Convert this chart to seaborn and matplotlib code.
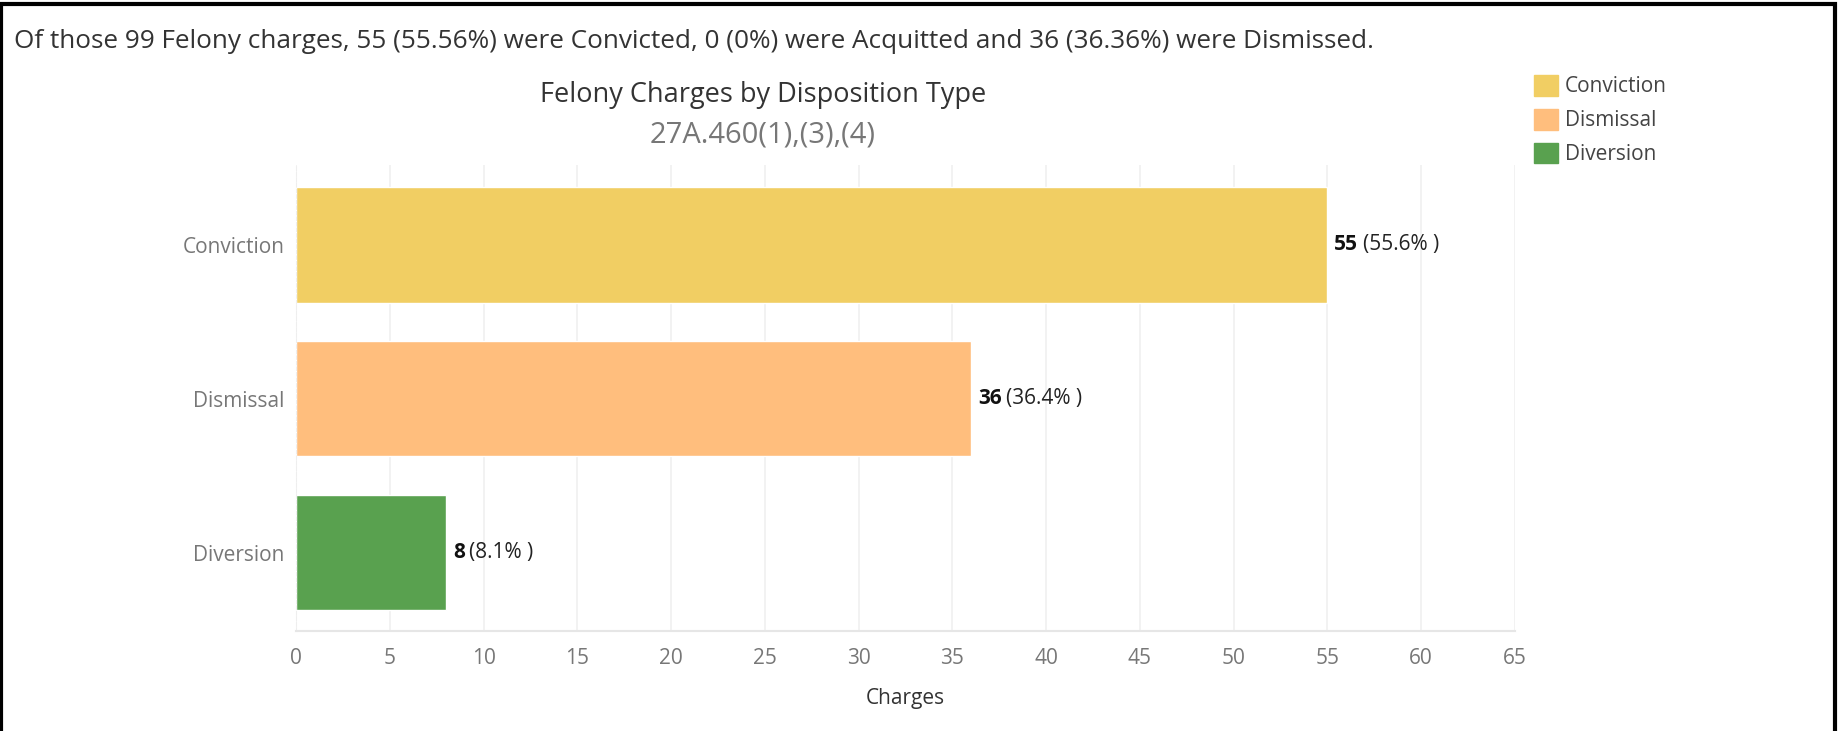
import matplotlib
matplotlib.use("Agg")
import matplotlib.pyplot as plt
import matplotlib.patches as mpatches
import seaborn as sns
import pandas as pd

# data
categories = ["Conviction", "Dismissal", "Diversion"]
counts = [55, 36, 8]
total_charges = 99
colors = ["#F1CE63", "#FFBE7D", "#59A14F"]
x_ticks = list(range(0, 70, 5))
summary = ("Of those 99 Felony charges, 55 (55.56%) were Convicted, "
           "0 (0%) were Acquitted and 36 (36.36%) were Dismissed.")

sns.set_style("white")
plt.rcParams["font.family"] = ["Open Sans", "DejaVu Sans"]

df = pd.DataFrame({"disposition": categories, "charges": counts})

fig = plt.figure(figsize=(18.43, 7.31), dpi=100)
ax = fig.add_axes([0.1606, 0.1368, 0.6614, 0.6375])

sns.barplot(data=df, x="charges", y="disposition", hue="disposition",
            palette=colors, orient="h", width=0.75, legend=False,
            saturation=1, ax=ax)

ax.set_xlim(0, 65)
ax.set_ylim(2.51, -0.52)
ax.set_xticks(x_ticks)
ax.tick_params(axis="x", labelsize=15, labelcolor="#777777", length=0, pad=12)
ax.tick_params(axis="y", labelsize=15, labelcolor="#777777", length=0, pad=8)
ax.grid(axis="x", color="#f0f0f0", linewidth=1.2)
ax.set_axisbelow(True)
for s in ["top", "right"]:
    ax.spines[s].set_visible(False)
ax.spines["bottom"].set_color("#e6e6e6")
ax.spines["bottom"].set_linewidth(1.5)
ax.spines["left"].set_color("#eeeeee")
ax.spines["left"].set_linestyle((0, (3, 2)))
ax.set_xlabel("Charges", fontsize=15, color="#333333", labelpad=14)
ax.set_ylabel("")

# value labels: bold count + percentage
for i, n in enumerate(counts):
    pct = n / total_charges * 100
    t = ax.annotate(str(n), xy=(n, i), xytext=(5, 0), textcoords="offset points",
                    va="center", ha="left", fontsize=15, fontweight="bold",
                    color="#111111")
    ax.annotate(f"({pct:.1f}% )", xy=(1, 0.5), xycoords=t, xytext=(3, 0),
                textcoords="offset points", va="center", ha="left",
                fontsize=15, color="#222222")

# titles
fig.text(0.0076, 0.943, summary, fontsize=18.8, color="#333333", va="center", ha="left")
fig.text(0.414, 0.870, "Felony Charges by Disposition Type", fontsize=19.5,
         color="#333333", ha="center", va="center")
fig.text(0.414, 0.815, "27A.460(1),(3),(4)", fontsize=21, color="#777777",
         ha="center", va="center")

# legend
handles = [mpatches.Patch(color=c, label=l) for c, l in zip(colors, categories)]
fig.legend(handles=handles, loc="upper left", bbox_to_anchor=(0.822, 0.923),
           frameon=False, fontsize=15, handlelength=1.15, handleheight=1.15,
           handletextpad=0.35, labelspacing=0.55, labelcolor="#444444")

# outer frame
fig.add_artist(mpatches.Rectangle((0.0008, -0.01), 0.9948, 1.004, transform=fig.transFigure,
                                  fill=False, edgecolor="black", linewidth=3))

fig.savefig("out.png", dpi=100)
